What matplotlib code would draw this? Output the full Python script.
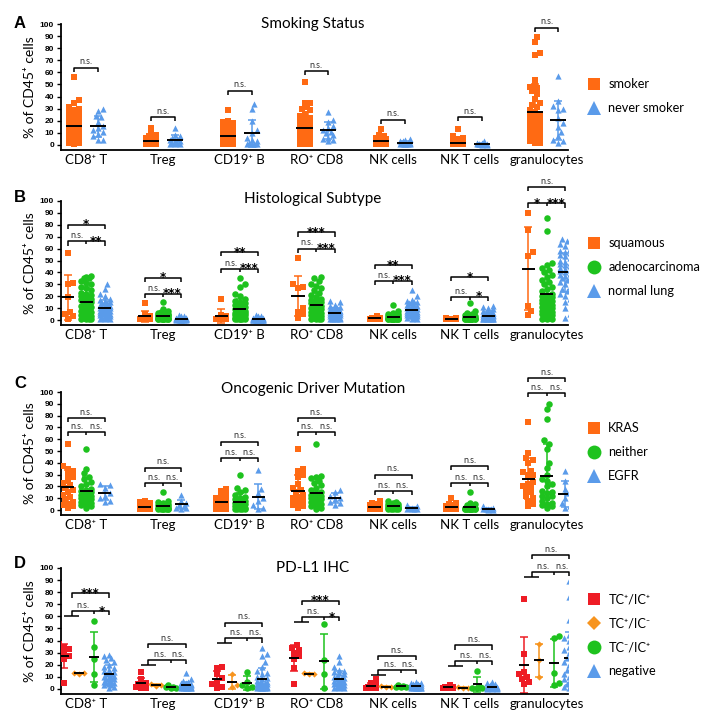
import numpy as np
import matplotlib.pyplot as plt
from matplotlib.lines import Line2D

plt.rcParams['font.family'] = ['Lato', 'DejaVu Sans']

categories = ['CD8⁺ T', 'Treg', 'CD19⁺ B', 'RO⁺ CD8', 'NK cells', 'NK T cells', 'granulocytes']

# ---- A: smoking status
a_smoker = [
    [56, 37, 35, 31, 30, 29, 28, 27, 25, 24, 23, 22, 21, 20, 19, 18, 17, 16, 15, 14, 13, 12, 11, 10, 9, 8, 7, 6, 5, 4, 3, 2, 1, 12, 10, 8, 6, 4, 2, 3],
    [14, 9, 8, 7, 6, 6, 5, 5, 5, 4, 4, 4, 4, 3, 3, 3, 3, 3, 2, 2, 2, 2, 2, 2, 1, 1, 1, 1, 1, 0.5, 0.5, 3, 4, 2, 1, 3, 2, 5, 6, 1],
    [29, 20, 19, 18, 17, 15, 14, 13, 12, 11, 10, 10, 9, 9, 8, 8, 7, 7, 6, 6, 5, 5, 5, 4, 4, 4, 3, 3, 3, 2, 2, 2, 1, 1, 1, 1, 0.5, 0.5, 6, 8],
    [52, 35, 35, 31, 30, 29, 26, 24, 22, 21, 20, 18, 17, 16, 15, 14, 13, 12, 11, 10, 10, 9, 8, 7, 6, 5, 5, 4, 3, 2, 1, 1, 8, 9, 12, 6, 4, 3, 2, 1],
    [13, 8, 7, 6, 5, 5, 5, 4, 4, 4, 4, 3, 3, 3, 3, 3, 3, 2, 2, 2, 2, 2, 2, 2, 1, 1, 1, 1, 1, 1, 0.5, 0.5, 4, 3, 2, 5, 6, 1, 2, 3],
    [13, 7, 6, 5, 4, 3, 3, 3, 2, 2, 2, 2, 2, 1, 1, 1, 1, 1, 1, 1, 1, 0.5, 0.5, 0.5, 0.5, 0.5, 0.5, 0.5, 2, 1, 3, 1, 2, 0.5, 1, 2, 1, 1, 0.5, 0.5],
    [89, 85, 76, 74, 54, 49, 48, 47, 45, 42, 38, 35, 33, 31, 29, 27, 25, 24, 22, 20, 19, 18, 17, 16, 15, 14, 13, 12, 11, 10, 9, 8, 7, 6, 5, 4, 3, 2, 2, 3],
]
a_never = [
    [30, 28, 24, 23, 19, 16, 14, 12, 11, 9, 7, 4, 4],
    [14, 8, 7, 6, 5, 4, 3, 3, 2, 2, 1, 1, 0.5],
    [34, 30, 20, 12, 10, 6, 4, 3, 2, 1, 1, 0.5, 0.5],
    [27, 21, 19, 16, 14, 12, 11, 10, 8, 6, 5, 4, 3],
    [5, 4, 3, 3, 2, 2, 2, 1, 1, 1, 1, 0.5, 0.5],
    [3, 2, 2, 1, 1, 1, 1, 0.5, 0.5, 0.5, 0.5, 0.3, 0.3],
    [57, 36, 30, 32, 29, 22, 18, 15, 11, 7, 4, 3, 2],
]
a_sig = ['n.s.'] * 7
a_sig_y = [64, 23, 45, 61, 21, 23, 97]

# ---- B: histological subtype
b_squamous = [
    [56, 31, 30, 7, 5, 3, 1, 19],
    [14, 5, 3, 2, 1, 0.5, 0.5, 0.5],
    [18, 4, 3, 2, 1, 0.5, 0.5, 0.5],
    [52, 30, 28, 27, 7, 5, 2, 10],
    [3, 2, 2, 1.5, 1, 1, 0.5, 0.5],
    [2, 1.5, 1, 1, 0.5, 0.5, 0.5, 1],
    [90, 76, 57, 54, 12, 8, 4],
]
b_adeno = [
    [37, 36, 35, 35, 33, 31, 30, 28, 27, 25, 23, 22, 21, 20, 19, 18, 17, 16, 15, 14, 13, 12, 12, 11, 10, 9, 8, 8, 7, 6, 5, 5, 4, 3, 2, 2, 1, 1, 0.5, 0.5],
    [15, 9, 8, 7, 7, 6, 6, 5, 5, 5, 5, 4, 4, 4, 4, 4, 3, 3, 3, 3, 3, 3, 2, 2, 2, 2, 2, 2, 1, 1, 1, 1, 1, 1, 0.5, 0.5, 0.5, 2, 3, 1],
    [35, 30, 28, 22, 20, 18, 16, 15, 14, 13, 12, 11, 10, 10, 9, 9, 8, 8, 7, 7, 6, 6, 5, 5, 5, 4, 4, 4, 3, 3, 3, 2, 2, 2, 1, 1, 1, 0.5, 0.5, 0.5],
    [36, 35, 33, 30, 29, 27, 25, 23, 21, 19, 18, 17, 16, 15, 14, 13, 12, 11, 10, 10, 9, 9, 8, 8, 7, 7, 6, 6, 5, 5, 4, 4, 3, 3, 2, 2, 1, 1, 0.5, 0.5],
    [13, 8, 6, 5, 5, 4, 4, 4, 3, 3, 3, 3, 3, 2, 2, 2, 2, 2, 2, 2, 2, 1.5, 1.5, 1.5, 1, 1, 1, 1, 1, 1, 1, 0.5, 0.5, 0.5, 0.5, 0.5, 2, 3, 1, 2],
    [14, 8, 6, 5, 4, 4, 3, 3, 3, 3, 2, 2, 2, 2, 2, 2, 1.5, 1.5, 1.5, 1, 1, 1, 1, 1, 1, 1, 1, 0.5, 0.5, 0.5, 0.5, 0.5, 0.5, 0.5, 1, 2, 0.5, 1, 0.5, 1],
    [86, 75, 48, 46, 44, 42, 40, 38, 36, 34, 32, 30, 28, 26, 24, 22, 21, 20, 19, 18, 17, 16, 15, 14, 13, 12, 11, 10, 9, 8, 7, 6, 5, 4, 3, 2, 2, 1, 1, 0.5],
]
b_normal = [
    [30, 26, 22, 20, 18, 17, 16, 15, 14, 14, 13, 13, 12, 12, 11, 11, 10, 10, 10, 9, 9, 8, 8, 8, 7, 7, 6, 6, 5, 5, 5, 4, 4, 3, 3, 2, 2, 1, 1, 0.5],
    [4, 3, 3, 2, 2, 2, 2, 2, 1.5, 1.5, 1.5, 1.5, 1, 1, 1, 1, 1, 1, 1, 1, 1, 1, 0.8, 0.8, 0.8, 0.8, 0.5, 0.5, 0.5, 0.5, 0.5, 0.5, 0.3, 0.3, 0.3, 0.3, 0.2, 0.2, 1, 2],
    [4, 3, 3, 2, 2, 2, 1.5, 1.5, 1, 1, 1, 1, 1, 1, 0.8, 0.8, 0.8, 0.5, 0.5, 0.5, 0.5, 0.5, 0.5, 0.3, 0.3, 0.3, 0.3, 0.3, 0.2, 0.2, 0.2, 0.2, 0.1, 0.1, 1, 2, 0.5, 0.5, 1, 0.5],
    [16, 15, 13, 12, 11, 10, 10, 9, 9, 8, 8, 8, 7, 7, 7, 7, 6, 6, 6, 6, 5, 5, 5, 5, 4, 4, 4, 4, 3, 3, 3, 3, 2, 2, 2, 1, 1, 1, 0.5, 0.5],
    [25, 20, 17, 15, 14, 16, 15, 14, 13, 12, 12, 11, 11, 10, 10, 9, 9, 9, 8, 8, 8, 7, 7, 7, 6, 6, 6, 5, 5, 5, 4, 4, 4, 3, 3, 3, 2, 2, 1, 1],
    [12, 11, 10, 9, 8, 7, 7, 6, 6, 5, 5, 5, 4, 4, 4, 4, 3, 3, 3, 3, 3, 2, 2, 2, 2, 2, 2, 1.5, 1.5, 1.5, 1, 1, 1, 1, 1, 0.5, 0.5, 0.5, 2, 3],
    [68, 66, 64, 62, 60, 58, 57, 56, 55, 54, 52, 50, 49, 48, 47, 46, 45, 44, 43, 42, 41, 40, 39, 38, 37, 36, 35, 34, 32, 30, 28, 26, 24, 22, 20, 18, 15, 10, 5, 2],
]
b_sig_low = [('n.s.', '**'), ('n.s.', '***'), ('n.s.', '***'), ('n.s.', '***'),
             ('n.s.', '***'), ('n.s.', '*'), ('*', '***')]
b_sig_up = ['*', '*', '**', '***', '**', '*', 'n.s.']
b_low_y = [66, 22, 43, 60, 33, 19.5, 98]
b_up_y = [80, 35.5, 57, 73.6, 46, 36, 111.5]

# ---- C: oncogenic driver mutation
c_kras = [
    [56, 37, 35, 33, 30, 28, 25, 23, 21, 19, 17, 15, 13, 11, 9, 7, 5, 4, 3, 2],
    [8, 7, 6, 5, 4, 4, 3, 3, 3, 2, 2, 2, 2, 1, 1, 1, 1, 0.5, 0.5, 0.5],
    [18, 16, 13, 11, 10, 9, 8, 7, 6, 5, 5, 4, 4, 3, 3, 2, 2, 1, 1, 0.5],
    [52, 35, 33, 30, 28, 22, 19, 17, 15, 13, 11, 10, 9, 8, 7, 6, 5, 4, 3, 2],
    [8, 6, 5, 4, 4, 3, 3, 3, 3, 2, 2, 2, 2, 2, 1, 1, 1, 1, 0.5, 0.5],
    [10, 6, 5, 4, 3, 3, 2, 2, 2, 1.5, 1.5, 1, 1, 1, 1, 0.5, 0.5, 0.5, 0.5, 0.5],
    [75, 48, 44, 42, 40, 33, 32, 30, 30, 24, 22, 20, 20, 17, 15, 12, 10, 8, 5, 3],
]
c_neither = [
    [52, 35, 31, 28, 26, 24, 22, 20, 18, 17, 16, 15, 14, 13, 12, 11, 10, 9, 8, 7, 6, 5, 4, 3, 2],
    [15, 8, 7, 6, 5, 5, 4, 4, 4, 3, 3, 3, 3, 2, 2, 2, 2, 2, 1, 1, 1, 1, 0.5, 0.5, 0.5],
    [30, 19, 17, 15, 13, 11, 10, 9, 8, 7, 6, 5, 5, 4, 4, 3, 3, 2, 2, 2, 1, 1, 1, 0.5, 0.5],
    [56, 29, 28, 27, 25, 23, 21, 19, 17, 15, 14, 13, 12, 11, 10, 9, 8, 7, 6, 5, 5, 4, 3, 2, 1],
    [8, 7, 6, 5, 5, 4, 4, 4, 3, 3, 3, 3, 3, 2, 2, 2, 2, 2, 1.5, 1.5, 1, 1, 1, 0.5, 0.5],
    [15, 6, 5, 4, 3, 3, 2, 2, 2, 2, 1.5, 1.5, 1, 1, 1, 1, 1, 0.5, 0.5, 0.5, 0.5, 0.5, 0.5, 0.5, 0.5],
    [90, 86, 77, 59, 56, 52, 40, 36, 30, 26, 25, 22, 20, 16, 14, 12, 15, 12, 10, 8, 6, 5, 4, 3, 2],
]
c_egfr = [
    [22, 21, 19, 14, 12, 10, 8, 7],
    [13, 8, 6, 4, 3, 2, 2, 1],
    [34, 18, 14, 10, 8, 4, 2, 1],
    [17, 15, 12, 10, 9, 7, 6, 4],
    [4, 3, 2, 1.5, 1, 0.5, 0.5, 0.5],
    [3, 2, 1, 1, 0.5, 0.5, 0.3, 0.3],
    [33, 25, 18, 14, 10, 6, 3, 2],
]
c_sig_low = [('n.s.', 'n.s.')] * 7
c_sig_up = ['n.s.'] * 7
c_low_y = [66, 22.6, 44, 66, 16, 22.6, 99]
c_up_y = [78, 36, 58, 78, 30, 37, 112]

# ---- D: PD-L1 IHC
d_tc_ic = [
    [37, 35, 33, 30, 28, 27, 25, 5],
    [14, 8, 5, 4, 3, 2, 1, 0.5],
    [18, 17, 12, 9, 6, 4, 2, 1],
    [36, 34, 32, 30, 27, 25, 17, 4],
    [8, 5, 3, 2, 1.5, 1, 0.5, 0.5],
    [3, 2, 2, 1.5, 1, 1, 0.5, 0.5],
    [74, 29, 14, 12, 10, 8, 6, 4],
]
d_tc = [
    [13, 13.5, 12.5],
    [2.5, 3, 4],
    [12, 3, 1.5],
    [12, 12.5, 13],
    [1.5, 2, 2.5],
    [0.5, 1, 1.5],
    [37, 24, 10],
]
d_ic = [
    [56, 35, 25, 12, 3],
    [3, 2, 1.5, 1, 0.5],
    [14, 6, 3, 1.5, 0.5],
    [54, 24, 12, 1],
    [3, 2.5, 2, 2, 1.5],
    [15, 2, 1, 0.5, 0.5],
    [44, 42, 13, 5, 3],
]
d_neg = [
    [28, 27, 26, 24, 22, 20, 18, 17, 16, 15, 14, 13, 12, 12, 11, 10, 10, 9, 8, 8, 7, 6, 6, 5, 5, 4, 3, 3, 2, 1],
    [13, 8, 7, 6, 5, 5, 4, 4, 4, 4, 3, 3, 3, 3, 3, 2, 2, 2, 2, 2, 2, 1.5, 1.5, 1, 1, 1, 1, 0.5, 0.5, 0.5],
    [34, 29, 27, 22, 18, 15, 13, 12, 10, 9, 8, 7, 6, 6, 5, 5, 4, 4, 3, 3, 3, 2, 2, 2, 1, 1, 1, 0.5, 0.5, 0.5],
    [27, 22, 18, 16, 15, 14, 13, 12, 11, 10, 10, 9, 9, 8, 8, 7, 7, 6, 6, 5, 5, 4, 4, 3, 3, 2, 2, 1, 1, 0.5],
    [6, 5, 5, 4, 4, 4, 3, 3, 3, 3, 3, 3, 2, 2, 2, 2, 2, 2, 2, 1.5, 1.5, 1.5, 1, 1, 1, 1, 0.5, 0.5, 0.5, 0.5],
    [6, 5, 4, 3, 3, 2, 2, 2, 2, 1.5, 1.5, 1.5, 1, 1, 1, 1, 1, 1, 1, 0.5, 0.5, 0.5, 0.5, 0.5, 0.5, 0.5, 0.5, 0.3, 0.3, 0.3],
    [89, 76, 57, 48, 45, 42, 40, 38, 35, 32, 30, 28, 26, 24, 22, 20, 18, 16, 14, 12, 10, 9, 8, 6, 5, 4, 3, 2, 1, 1],
]
d_sig_low = [('n.s.', '*'), ('n.s.', 'n.s.'), ('n.s.', 'n.s.'), ('n.s.', '*'),
             ('n.s.', 'n.s.'), ('n.s.', 'n.s.'), ('n.s.', 'n.s.')]
d_sig_up = ['***', 'n.s.', 'n.s.', '***', 'n.s.', 'n.s.', 'n.s.']
d_base_y = [60.5, 19.8, 37.8, 55.6, 11.6, 19, 92.8]
d_up_y = [79, 37, 54.8, 73, 27.5, 36, 110.8]

ORANGE = '#FF6A13'
BLUE = '#5A9BEA'
GREEN = '#1EC21E'
RED = '#EE1C25'
LORANGE = '#F7941E'

XPX = 76.7   # pixels per category unit
YPX = 1.2    # pixels per % unit


def swarm(vals, d, maxw):
    # simple beeswarm: offsets in x units so markers don't overlap
    order = np.argsort(vals)
    step = d / 2.0
    cands = [0.0]
    k = 1
    while k * step <= maxw:
        cands += [k * step, -k * step]
        k += 1
    placed = []
    out = np.zeros(len(vals))
    for i in order:
        y = vals[i] * YPX
        best, bestd = 0.0, -1.0
        for c in cands:
            dmin = min([np.hypot(c - px, y - py) for px, py in placed], default=1e9)
            if dmin >= d:
                best = c
                break
            if dmin > bestd:
                best, bestd = c, dmin
        placed.append((best, y))
        out[i] = best / XPX
    return out


def draw_groups(ax, groups, styles, offsets, half, maxw):
    for vals_list, (col, mk, sz), off in zip(groups, styles, offsets):
        for ci, vals in enumerate(vals_list):
            v = np.array(vals, float)
            x0 = ci + off
            dx = swarm(v, 5.0, maxw)
            ax.scatter(x0 + dx, v, s=sz, marker=mk, color=col, linewidths=0, zorder=3)
            m, sd = v.mean(), v.std(ddof=1)
            ax.errorbar(x0, m, yerr=sd, fmt='none', ecolor=col, elinewidth=1.1,
                        capsize=3, capthick=1.1, zorder=2)
            ax.hlines(m, x0 - half, x0 + half, color='black', lw=1.4, zorder=4)


def sig_text(ax, x, y, text):
    if text == 'n.s.':
        ax.text(x, y + 1.0, text, ha='center', va='bottom', fontsize=6.5,
                color='#333333', clip_on=False)
    else:
        ax.text(x, y - 3.0, text, ha='center', va='baseline', fontsize=8.5,
                fontweight='bold', family='DejaVu Sans', clip_on=False)


def bline(ax, xs, ys):
    ax.plot(xs, ys, color='black', lw=1.1, clip_on=False, solid_capstyle='butt')


def bracket(ax, x1, x2, y, text, tick=3.5):
    bline(ax, [x1, x1, x2, x2], [y - tick, y, y, y - tick])
    sig_text(ax, (x1 + x2) / 2, y, text)


def setup_axes(rect):
    ax = fig.add_axes(rect)
    ax.set_xlim(-0.33, 6.28)
    ax.set_ylim(-4, 100)
    for s in ['top', 'right']:
        ax.spines[s].set_visible(False)
    for s in ['left', 'bottom']:
        ax.spines[s].set_linewidth(1.3)
    ax.set_yticks(range(0, 101, 10))
    ax.tick_params(axis='y', length=3, width=1, pad=2)
    for lab in ax.get_yticklabels():
        lab.set_fontsize(6)
        lab.set_fontweight('bold')
        lab.set_family('Liberation Sans')
    ax.set_xticks(range(len(categories)))
    ax.set_xticklabels(categories, fontsize=9.5)
    ax.tick_params(axis='x', length=0, pad=3)
    return ax


W, H = 702, 715
fig = plt.figure(figsize=(W / 100, H / 100), dpi=100)

L, WD = 61 / W, 507 / W
rects = [
    [L, 0.7905, WD, 0.1759],
    [L, 0.5457, WD, 0.1732],
    [L, 0.2801, WD, 0.1716],
    [L, 0.0296, WD, 0.1760],
]
letters = ['A', 'B', 'C', 'D']
letter_y = [24, 197, 383, 564]
titles = ['Smoking Status', 'Histological Subtype', 'Oncogenic Driver Mutation', 'PD-L1 IHC']
title_y = [24, 199, 389, 568]
ylab_y = [87, 263, 453, 631]
legend_top = [78, 237, 422, 593]

axes = [setup_axes(r) for r in rects]

# A
ax = axes[0]
off2 = [-0.155, 0.155]
draw_groups(ax, [a_smoker, a_never], [(ORANGE, 's', 15), (BLUE, '^', 20)], off2, 0.105, 7)
for ci in range(7):
    bracket(ax, ci + off2[0], ci + off2[1], a_sig_y[ci], a_sig[ci])

# B and C
off3 = [-0.24, 0.0, 0.24]


def three_group_sigs(ax, low, up, low_y, up_y):
    for ci in range(7):
        x1, x2, x3 = [ci + o for o in off3]
        y = low_y[ci]
        bline(ax, [x1, x1, x3, x3], [y - 3.5, y, y, y - 3.5])
        bline(ax, [x2, x2], [y, y - 2.5])
        sig_text(ax, (x1 + x2) / 2, y, low[ci][0])
        sig_text(ax, (x2 + x3) / 2, y, low[ci][1])
        bracket(ax, x1, x3, up_y[ci], up[ci])


ax = axes[1]
draw_groups(ax, [b_squamous, b_adeno, b_normal],
            [(ORANGE, 's', 15), (GREEN, 'o', 22), (BLUE, '^', 20)], off3, 0.085, 6)
three_group_sigs(ax, b_sig_low, b_sig_up, b_low_y, b_up_y)

ax = axes[2]
draw_groups(ax, [c_kras, c_neither, c_egfr],
            [(ORANGE, 's', 15), (GREEN, 'o', 22), (BLUE, '^', 20)], off3, 0.085, 6)
three_group_sigs(ax, c_sig_low, c_sig_up, c_low_y, c_up_y)

# D
ax = axes[3]
off4 = [-0.29, -0.095, 0.1, 0.295]
draw_groups(ax, [d_tc_ic, d_tc, d_ic, d_neg],
            [(RED, 's', 15), (LORANGE, 'D', 10), (GREEN, 'o', 22), (BLUE, '^', 20)],
            off4, 0.065, 5)
for ci in range(7):
    x1, x2, x3, x4 = [ci + o for o in off4]
    xm = (x1 + x2) / 2
    y0 = d_base_y[ci]
    y = y0 + 4
    bline(ax, [x1, x2], [y0, y0])
    bline(ax, [xm, xm, x4, x4], [y0, y, y, y - 3.5])
    bline(ax, [x3, x3], [y, y - 2.5])
    sig_text(ax, (xm + x3) / 2, y, d_sig_low[ci][0])
    sig_text(ax, (x3 + x4) / 2, y, d_sig_low[ci][1])
    bracket(ax, xm, x4, d_up_y[ci], d_sig_up[ci])

# texts
for i in range(4):
    fig.text(20 / W, 1 - letter_y[i] / H, letters[i], fontsize=12, fontweight='bold',
             family='Liberation Sans', ha='center', va='center')
    fig.text(313 / W, 1 - title_y[i] / H, titles[i], fontsize=11, ha='center', va='center')
    fig.text(30 / W, 1 - ylab_y[i] / H, '% of CD45⁺ cells', fontsize=10, rotation=90,
             ha='center', va='center')

# legends
legend_sets = [
    [('smoker', ORANGE, 's', 9), ('never smoker', BLUE, '^', 10)],
    [('squamous', ORANGE, 's', 9), ('adenocarcinoma', GREEN, 'o', 10), ('normal lung', BLUE, '^', 10)],
    [('KRAS', ORANGE, 's', 9), ('neither', GREEN, 'o', 10), ('EGFR', BLUE, '^', 10)],
    [('TC⁺/IC⁺', RED, 's', 9), ('TC⁺/IC⁻', LORANGE, 'D', 7.5), ('TC⁻/IC⁺', GREEN, 'o', 10),
     ('negative', BLUE, '^', 10)],
]
for i, items in enumerate(legend_sets):
    handles = [Line2D([], [], ls='none', marker=mk, color=c, markersize=ms, markeredgewidth=0)
               for _, c, mk, ms in items]
    fig.legend(handles, [t for t, _, _, _ in items], loc='upper left',
               bbox_to_anchor=(586 / W, 1 - legend_top[i] / H), frameon=False,
               fontsize=9.2, handletextpad=0.45, labelspacing=0.95, borderaxespad=0,
               borderpad=0, handlelength=1.3)

fig.savefig('out.png', dpi=100)
